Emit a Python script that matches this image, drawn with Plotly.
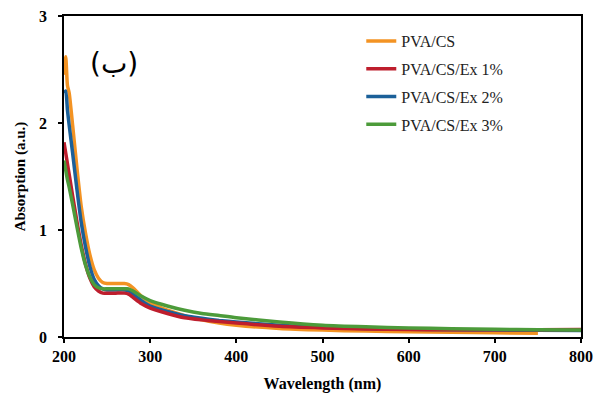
import plotly.graph_objects as go

wavelength = [200, 202, 204, 206, 210, 215, 220, 225, 230, 235, 240, 245, 250, 260, 270, 275, 280, 290, 300, 320, 340, 360, 380, 400, 450, 500, 550, 600, 650, 700, 750, 800]

pva_cs = [2.45, 2.62, 2.35, 2.28, 1.98, 1.58, 1.22, 0.97, 0.77, 0.63, 0.55, 0.51, 0.50, 0.50, 0.50, 0.49, 0.46, 0.38, 0.32, 0.25, 0.20, 0.16, 0.13, 0.11, 0.08, 0.065, 0.055, 0.05, 0.045, 0.04, 0.035, None]
ex1 = [1.82, 1.72, 1.62, 1.52, 1.32, 1.08, 0.86, 0.68, 0.55, 0.47, 0.43, 0.41, 0.41, 0.41, 0.41, 0.40, 0.37, 0.31, 0.27, 0.22, 0.18, 0.16, 0.145, 0.13, 0.10, 0.085, 0.075, 0.07, 0.068, 0.067, 0.068, 0.07]
ex2 = [2.28, 2.30, 2.12, 1.98, 1.72, 1.38, 1.07, 0.84, 0.66, 0.54, 0.48, 0.45, 0.44, 0.44, 0.44, 0.43, 0.40, 0.34, 0.29, 0.24, 0.20, 0.175, 0.155, 0.14, 0.11, 0.09, 0.08, 0.072, 0.068, 0.065, 0.062, 0.06]
ex3 = [1.65, 1.56, 1.47, 1.40, 1.24, 1.03, 0.83, 0.67, 0.56, 0.49, 0.46, 0.45, 0.45, 0.45, 0.45, 0.45, 0.43, 0.38, 0.34, 0.29, 0.25, 0.22, 0.20, 0.18, 0.14, 0.11, 0.095, 0.085, 0.078, 0.072, 0.068, 0.065]

series_names = ["PVA/CS", "PVA/CS/Ex 1%", "PVA/CS/Ex 2%", "PVA/CS/Ex 3%"]
series_values = [pva_cs, ex1, ex2, ex3]
colors = ["#F39323", "#BE1E2D", "#1B6099", "#4C9B3A"]
draw_order = [0, 2, 1, 3]

x_ticks = [200, 300, 400, 500, 600, 700, 800]
y_ticks = [0, 1, 2, 3]

fig = go.Figure()
for i in draw_order:
    fig.add_trace(go.Scatter(
        x=wavelength, y=series_values[i], mode="lines", name=series_names[i],
        line=dict(color=colors[i], width=3.5, shape="spline", smoothing=0.6),
        legendgroup="g%d" % i, legendrank=i + 1, connectgaps=False))

serif = "Liberation Serif, Times New Roman, serif"
fig.update_layout(
    width=603, height=400,
    margin=dict(l=64, r=22, t=16, b=63),
    paper_bgcolor="white", plot_bgcolor="white",
    font=dict(family=serif, color="black"),
    showlegend=True,
    legend=dict(x=0.575, y=0.975, xanchor="left", yanchor="top",
                font=dict(family=serif, size=16, color="#222"),
                bgcolor="rgba(0,0,0,0)", tracegroupgap=4, itemwidth=30,
                traceorder="grouped"),
    xaxis=dict(range=[200, 800], tickvals=x_ticks, ticks="outside", ticklen=4,
               tickwidth=1.5, tickcolor="black", ticklabelstandoff=0,
               showline=True, linecolor="black", linewidth=1.5, mirror=True,
               showgrid=False, zeroline=False, automargin=False,
               tickfont=dict(family=serif, size=16, color="black", weight="bold"),
               title=dict(text="<b>Wavelength (nm)</b>", standoff=14,
                          font=dict(family=serif, size=16, color="black"))),
    yaxis=dict(range=[0, 3], tickvals=y_ticks, ticks="outside", ticklen=4,
               tickwidth=1.5, tickcolor="black", ticklabelstandoff=8,
               showline=True, linecolor="black", linewidth=1.5, mirror=True,
               showgrid=False, zeroline=False, automargin=False,
               tickfont=dict(family=serif, size=16, color="black", weight="bold"),
               title=dict(text="<b>Absorption (a.u.)</b>", standoff=10,
                          font=dict(family=serif, size=15, color="black"))),
)

fig.add_annotation(x=258, y=2.56, xref="x", yref="y", text="(ب)", showarrow=False,
                   font=dict(family="DejaVu Sans, Noto Sans, sans-serif", size=28, color="black"))

fig.write_html("out.html")
